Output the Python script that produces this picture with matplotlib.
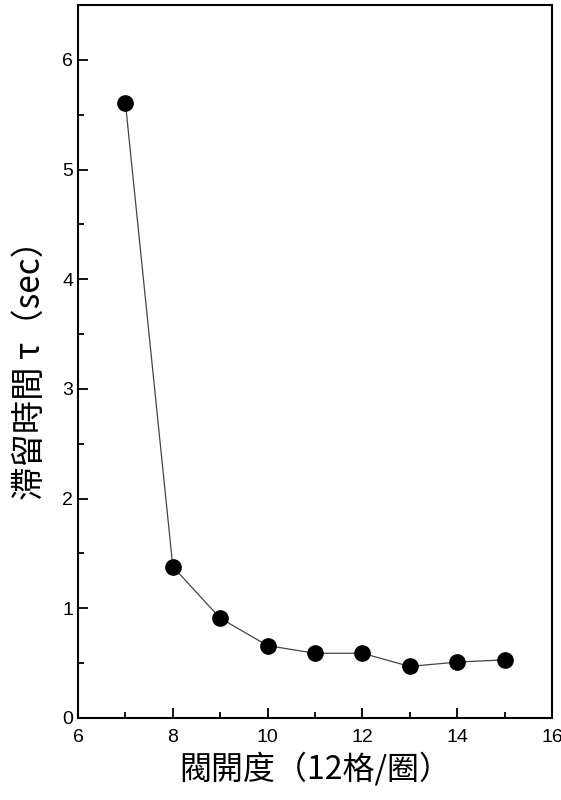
import matplotlib
matplotlib.use('Agg')
import matplotlib.pyplot as plt
from matplotlib.ticker import MultipleLocator

plt.rcParams['font.family'] = ['Liberation Sans', 'Noto Sans CJK TC', 'DejaVu Sans']

# valve opening (12 divisions per turn) vs residence time
opening = [7, 8, 9, 10, 11, 12, 13, 14, 15]
tau = [5.61, 1.38, 0.91, 0.66, 0.59, 0.59, 0.47, 0.51, 0.53]

fig = plt.figure(figsize=(5.61, 8), dpi=100)
ax = fig.add_axes([78 / 561, 1 - 718 / 800, (552 - 78) / 561, (718 - 5) / 800])

ax.plot(opening, tau, color='#444444', lw=0.9, marker='o', ms=11,
        mfc='black', mec='black')

ax.set_xlim(6, 16)
ax.set_ylim(0, 6.5)
ax.xaxis.set_major_locator(MultipleLocator(2))
ax.xaxis.set_minor_locator(MultipleLocator(1))
ax.yaxis.set_major_locator(MultipleLocator(1))
ax.yaxis.set_minor_locator(MultipleLocator(0.5))
ax.tick_params(which='both', direction='in', top=False, right=False,
               labelsize=14, width=1.3)
ax.tick_params(which='major', length=7)
ax.tick_params(which='minor', length=4)
ax.tick_params(axis='x', pad=8)
for s in ax.spines.values():
    s.set_linewidth(1.5)

cjk = ['Noto Sans CJK TC', 'DejaVu Sans']
ax.set_xlabel('閥開度（12格/圈）', fontsize=23, family=cjk, labelpad=4)
ax.set_ylabel('滯留時間 τ（sec）', fontsize=24, family=cjk, labelpad=10)

fig.savefig('out.png', dpi=100)
